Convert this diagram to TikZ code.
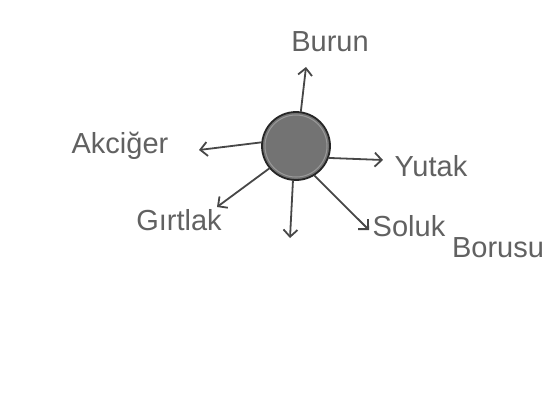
\documentclass[tikz,border=0pt]{standalone}
\usepackage{fontspec}
\setmainfont{Liberation Sans}
\usetikzlibrary{arrows.meta}
\begin{document}
\begin{tikzpicture}[x=1pt,y=-1pt,
  lbl/.style={text=black!62,font=\fontsize{29}{32}\selectfont,inner sep=0pt},
  conn/.style={draw=black!72,line width=1.8pt,line cap=round,-{Straight Barb[length=7pt,width=14pt]}},
  blob/.style={circle,minimum size=68pt,draw=black!85,line width=1.8pt,fill=black!55,inner sep=0pt}]
\useasboundingbox (0,0) rectangle (557,405);
\fill[white] (0,0) rectangle (557,405);
\node[blob] (c) at (296,146) {};
\draw[black!40,line width=1pt] (296,146) circle (31);
\coordinate (up) at (306,67);
\coordinate (lf) at (199,150);
\coordinate (rt) at (383,160);
\coordinate (ll) at (217,207);
\coordinate (dn) at (290,238);
\coordinate (lr) at (369,230);
\draw[conn] (c.82) -- (up);
\draw[conn] (c.174) -- (lf);
\draw[conn] (c.-20) -- (rt);
\draw[conn] (c.-140) -- (ll);
\draw[conn] (c.-95) -- (dn);
\draw[conn] (c.-58) -- (lr);
\node[lbl] (burun) at (330,42) {Burun};
\node[lbl] (akciger) at (120,146) {Akciğer};
\node[lbl] (yutak) at (431,166) {Yutak};
\node[lbl] (girtlak) at (179,220) {Gırtlak};
\node[lbl] (soluk) at (409,226) {Soluk};
\node[lbl] (borusu) at (498,248) {Borusu};
\end{tikzpicture}
\end{document}
